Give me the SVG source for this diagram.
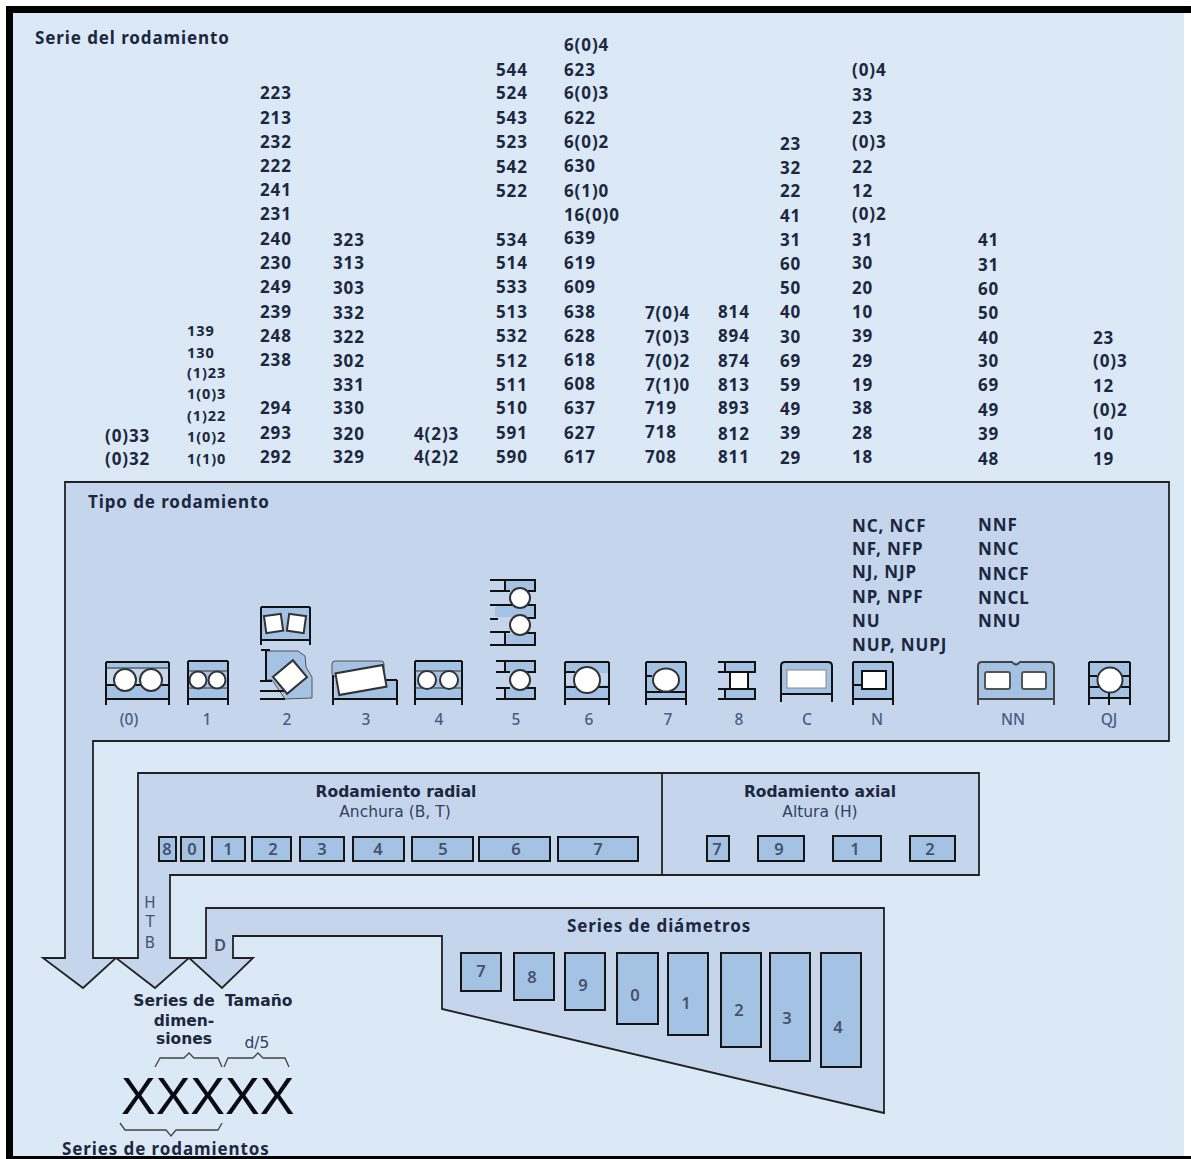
<svg xmlns="http://www.w3.org/2000/svg" width="1191" height="1159" viewBox="0 0 1191 1159">
<style>
text{font-family:"Noto Sans","DejaVu Sans",sans-serif;fill:#1c2740}
.n{font-size:17px;font-weight:700;letter-spacing:.9px}
.s{font-size:14.5px;font-weight:700;letter-spacing:.9px}
.t{font-size:17px;font-weight:700;letter-spacing:.9px}
.c{text-anchor:middle}
.d{font-family:"DejaVu Sans",sans-serif;font-size:15.5px;font-weight:700}
.r{font-family:"DejaVu Sans",sans-serif;font-size:15.5px;font-weight:400;fill:#34405c}
.l{font-size:15.5px;font-weight:500;fill:#4a5c85;text-anchor:middle}
.b{font-size:16.5px;font-weight:600;fill:#46526c;text-anchor:middle}
.h{font-family:"DejaVu Sans",sans-serif;font-size:15px;fill:#46526c;text-anchor:middle}
.band{fill:#c5d6ec;stroke:#222;stroke-width:1.8}
.box{fill:#a4c2e3;stroke:#151515;stroke-width:2}
.bl{fill:#a4c2e3;stroke:none}
.o{fill:none;stroke:#111;stroke-width:2}
.w{fill:#fff;stroke:#333;stroke-width:2}
.brace{fill:none;stroke:#444;stroke-width:1.3}
</style>
<rect width="1191" height="1159" fill="#fff"/>
<rect x="12" y="12" width="1172" height="1147" fill="#dbe9f6"/>

<g id="bearing-series">
<text class="t" x="35" y="44">Serie del rodamiento</text>
<text class="n" x="105" y="442">(0)33</text><text class="n" x="105" y="465">(0)32</text>
<text class="s" x="187" y="336">139</text><text class="s" x="187" y="358">130</text><text class="s" x="187" y="378">(1)23</text><text class="s" x="187" y="399">1(0)3</text><text class="s" x="187" y="421">(1)22</text><text class="s" x="187" y="442">1(0)2</text><text class="s" x="187" y="464">1(1)0</text>
<text class="n" x="260" y="99">223</text><text class="n" x="260" y="124">213</text><text class="n" x="260" y="148">232</text><text class="n" x="260" y="172">222</text><text class="n" x="260" y="196">241</text><text class="n" x="260" y="220">231</text><text class="n" x="260" y="245">240</text><text class="n" x="260" y="269">230</text><text class="n" x="260" y="293">249</text><text class="n" x="260" y="318">239</text><text class="n" x="260" y="342">248</text><text class="n" x="260" y="366">238</text><text class="n" x="260" y="414">294</text><text class="n" x="260" y="439">293</text><text class="n" x="260" y="463">292</text>
<text class="n" x="333" y="246">323</text><text class="n" x="333" y="269">313</text><text class="n" x="333" y="294">303</text><text class="n" x="333" y="319">332</text><text class="n" x="333" y="343">322</text><text class="n" x="333" y="367">302</text><text class="n" x="333" y="391">331</text><text class="n" x="333" y="414">330</text><text class="n" x="333" y="440">320</text><text class="n" x="333" y="463">329</text>
<text class="n" x="414" y="440">4(2)3</text><text class="n" x="414" y="463">4(2)2</text>
<text class="n" x="496" y="76">544</text><text class="n" x="496" y="99">524</text><text class="n" x="496" y="124">543</text><text class="n" x="496" y="148">523</text><text class="n" x="496" y="173">542</text><text class="n" x="496" y="197">522</text><text class="n" x="496" y="246">534</text><text class="n" x="496" y="269">514</text><text class="n" x="496" y="293">533</text><text class="n" x="496" y="318">513</text><text class="n" x="496" y="342">532</text><text class="n" x="496" y="367">512</text><text class="n" x="496" y="391">511</text><text class="n" x="496" y="414">510</text><text class="n" x="496" y="439">591</text><text class="n" x="496" y="463">590</text>
<text class="n" x="564" y="51">6(0)4</text><text class="n" x="564" y="76">623</text><text class="n" x="564" y="99">6(0)3</text><text class="n" x="564" y="124">622</text><text class="n" x="564" y="148">6(0)2</text><text class="n" x="564" y="172">630</text><text class="n" x="564" y="197">6(1)0</text><text class="n" x="564" y="221">16(0)0</text><text class="n" x="564" y="244">639</text><text class="n" x="564" y="269">619</text><text class="n" x="564" y="293">609</text><text class="n" x="564" y="318">638</text><text class="n" x="564" y="342">628</text><text class="n" x="564" y="366">618</text><text class="n" x="564" y="390">608</text><text class="n" x="564" y="414">637</text><text class="n" x="564" y="439">627</text><text class="n" x="564" y="463">617</text>
<text class="n" x="645" y="319">7(0)4</text><text class="n" x="645" y="343">7(0)3</text><text class="n" x="645" y="367">7(0)2</text><text class="n" x="645" y="391">7(1)0</text><text class="n" x="645" y="414">719</text><text class="n" x="645" y="438">718</text><text class="n" x="645" y="463">708</text>
<text class="n" x="718" y="318">814</text><text class="n" x="718" y="342">894</text><text class="n" x="718" y="367">874</text><text class="n" x="718" y="391">813</text><text class="n" x="718" y="414">893</text><text class="n" x="718" y="440">812</text><text class="n" x="718" y="463">811</text>
<text class="n" x="780" y="150">23</text><text class="n" x="780" y="174">32</text><text class="n" x="780" y="197">22</text><text class="n" x="780" y="222">41</text><text class="n" x="780" y="246">31</text><text class="n" x="780" y="270">60</text><text class="n" x="780" y="294">50</text><text class="n" x="780" y="318">40</text><text class="n" x="780" y="343">30</text><text class="n" x="780" y="367">69</text><text class="n" x="780" y="391">59</text><text class="n" x="780" y="415">49</text><text class="n" x="780" y="439">39</text><text class="n" x="780" y="464">29</text>
<text class="n" x="852" y="76">(0)4</text><text class="n" x="852" y="101">33</text><text class="n" x="852" y="124">23</text><text class="n" x="852" y="148">(0)3</text><text class="n" x="852" y="173">22</text><text class="n" x="852" y="197">12</text><text class="n" x="852" y="220">(0)2</text><text class="n" x="852" y="246">31</text><text class="n" x="852" y="269">30</text><text class="n" x="852" y="294">20</text><text class="n" x="852" y="318">10</text><text class="n" x="852" y="342">39</text><text class="n" x="852" y="367">29</text><text class="n" x="852" y="391">19</text><text class="n" x="852" y="414">38</text><text class="n" x="852" y="439">28</text><text class="n" x="852" y="463">18</text>
<text class="n" x="978" y="246">41</text><text class="n" x="978" y="271">31</text><text class="n" x="978" y="295">60</text><text class="n" x="978" y="319">50</text><text class="n" x="978" y="344">40</text><text class="n" x="978" y="367">30</text><text class="n" x="978" y="391">69</text><text class="n" x="978" y="416">49</text><text class="n" x="978" y="440">39</text><text class="n" x="978" y="465">48</text>
<text class="n" x="1093" y="344">23</text><text class="n" x="1093" y="367">(0)3</text><text class="n" x="1093" y="392">12</text><text class="n" x="1093" y="416">(0)2</text><text class="n" x="1093" y="440">10</text><text class="n" x="1093" y="465">19</text>
</g>

<g id="band-diameter">
<path class="band" d="M206 958V908H884V1113L442 1009V936H233V958H253L222 988L189 958Z"/>
<text class="t c" x="659" y="932">Series de diámetros</text>
<rect class="box" x="461" y="953" width="40" height="38"/><rect class="box" x="514" y="953" width="40" height="47"/><rect class="box" x="565" y="953" width="40" height="57"/><rect class="box" x="617" y="953" width="41" height="71"/><rect class="box" x="668" y="953" width="40" height="82"/><rect class="box" x="721" y="953" width="40" height="94"/><rect class="box" x="770" y="953" width="40" height="108"/><rect class="box" x="821" y="953" width="40" height="114"/>
<text class="b" x="481" y="977">7</text><text class="b" x="532" y="983">8</text><text class="b" x="583" y="991">9</text><text class="b" x="635" y="1001">0</text><text class="b" x="686" y="1009">1</text><text class="b" x="739" y="1016">2</text><text class="b" x="787" y="1024">3</text><text class="b" x="838" y="1033">4</text>
<text class="b" x="220" y="951">D</text>
</g>

<g id="band-dimension">
<path class="band" d="M138 958V773H979V875H170V958H189L155 988L116 958Z"/>
<line x1="662" y1="773" x2="662" y2="875" stroke="#222" stroke-width="1.8"/>
<text class="d c" x="396" y="797">Rodamiento radial</text>
<text class="r c" x="395" y="817">Anchura (B, T)</text>
<text class="d c" x="820" y="797">Rodamiento axial</text>
<text class="r c" x="820" y="817">Altura (H)</text>
<rect class="box" x="159" y="837" width="17" height="24"/><rect class="box" x="181" y="837" width="23" height="24"/><rect class="box" x="212" y="837" width="33" height="24"/><rect class="box" x="252" y="837" width="39" height="24"/><rect class="box" x="300" y="837" width="44" height="24"/><rect class="box" x="353" y="837" width="51" height="24"/><rect class="box" x="412" y="837" width="61" height="24"/><rect class="box" x="479" y="837" width="71" height="24"/><rect class="box" x="558" y="837" width="80" height="24"/>
<rect class="box" x="707" y="836" width="22" height="25"/><rect class="box" x="758" y="836" width="46" height="25"/><rect class="box" x="833" y="836" width="48" height="25"/><rect class="box" x="910" y="836" width="45" height="25"/>
<text class="b" x="167" y="855">8</text><text class="b" x="192" y="855">0</text><text class="b" x="228" y="855">1</text><text class="b" x="273" y="855">2</text><text class="b" x="322" y="855">3</text><text class="b" x="378" y="855">4</text><text class="b" x="443" y="855">5</text><text class="b" x="516" y="855">6</text><text class="b" x="598" y="855">7</text>
<text class="b" x="717" y="855">7</text><text class="b" x="779" y="855">9</text><text class="b" x="855" y="855">1</text><text class="b" x="930" y="855">2</text>
<text class="h" x="150" y="908">H</text><text class="h" x="150" y="927">T</text><text class="h" x="150" y="948">B</text>
</g>

<g id="band-type">
<path class="band" d="M65 958V482H1169V741H93V958H116L83 988L43 958Z"/>
<text class="t" x="88" y="508">Tipo de rodamiento</text>
<text class="t" x="852" y="532">NC, NCF</text><text class="t" x="852" y="555">NF, NFP</text><text class="t" x="852" y="578">NJ, NJP</text><text class="t" x="852" y="603">NP, NPF</text><text class="t" x="852" y="627">NU</text><text class="t" x="852" y="651">NUP, NUPJ</text>
<text class="t" x="978" y="531">NNF</text><text class="t" x="978" y="555">NNC</text><text class="t" x="978" y="580">NNCF</text><text class="t" x="978" y="604">NNCL</text><text class="t" x="978" y="627">NNU</text>
</g>

<g id="icon-0"><rect class="bl" x="106" y="662" width="63" height="37"/><rect x="107" y="669" width="61" height="15" fill="#c5d6ec"/><path class="o" d="M106 662H169M106 662V705M169 662V705M106 699H169M106 685H169"/><path d="M106 668H169" stroke="#333" stroke-width="1.2"/><circle class="w" cx="125" cy="680" r="11"/><circle class="w" cx="151" cy="680" r="11"/><text class="l" x="129" y="725">(0)</text></g>
<g id="icon-1"><rect class="bl" x="188" y="661" width="40" height="38"/><path class="o" d="M188 661H228M188 661V705M228 661V705M188 699H228"/><path d="M188 671H228M188 688H228" stroke="#333" stroke-width="1.2"/><circle class="w" cx="198" cy="680" r="8.5"/><circle class="w" cx="217" cy="680" r="8.5"/><text class="l" x="207" y="725">1</text></g>
<g id="icon-2"><rect class="bl" x="261" y="607" width="49" height="33"/><path class="o" d="M261 607H310M261 607V645M310 607V645M261 640H310"/><rect class="w" x="265" y="615" width="17" height="17" transform="rotate(-8 273 623)"/><rect class="w" x="288" y="615" width="17" height="17" transform="rotate(8 297 623)"/>
<path class="bl" d="M266 651H298L305 656L306 667L312 677V698L285 699L272 680H266Z" style="stroke:#555;stroke-width:1"/><path class="o" d="M261 650H270M266 650V681M260 681H272M260 691H285M260 699H285"/><rect class="w" x="277" y="666" width="26" height="22" transform="rotate(-40 290 677)"/><text class="l" x="287" y="725">2</text></g>
<g id="icon-3"><rect class="bl" x="332" y="661" width="52" height="16" rx="3" style="stroke:#555;stroke-width:1"/><rect class="bl" x="335" y="680" width="62" height="19"/><path class="o" d="M333 675V705M397 680V705M384 680H397M333 699H397"/><rect class="w" x="337" y="669" width="48" height="22" transform="rotate(-10 361 680)"/><text class="l" x="366" y="725">3</text></g>
<g id="icon-4"><rect class="bl" x="415" y="661" width="47" height="38"/><path class="o" d="M415 661H462M415 661V705M462 661V705M415 699H462"/><path d="M415 671H462M415 688H462" stroke="#333" stroke-width="1.2"/><circle class="w" cx="427" cy="680" r="9"/><circle class="w" cx="449" cy="680" r="9"/><text class="l" x="439" y="725">4</text></g>
<g id="icon-5a"><rect class="bl" x="505" y="580" width="30" height="11" rx="3"/><rect class="bl" x="495" y="606" width="40" height="11" rx="3"/><rect class="bl" x="505" y="634" width="30" height="11" rx="3"/><path class="o" d="M490 580H535V591H525M490 591H510M490 605H535V618H525M490 619H498M490 632H510M505 580V591M505 632V645M490 645H535V633H525"/><circle class="w" cx="520" cy="598" r="10"/><circle class="w" cx="520" cy="625" r="10"/></g>
<g id="icon-5b"><rect class="bl" x="505" y="661" width="30" height="11" rx="3"/><rect class="bl" x="505" y="688" width="30" height="11" rx="3"/><path class="o" d="M496 661H535V672H525M496 672H510M496 688H510M496 699H535V688H525M505 661V672M505 688V699"/><circle class="w" cx="520" cy="680" r="10"/><text class="l" x="516" y="725">5</text></g>
<g id="icon-6"><rect class="bl" x="565" y="662" width="44" height="37"/><rect x="566" y="673" width="42" height="12" fill="#c5d6ec"/><path class="o" d="M565 662H609M565 662V705M609 662V705M565 699H609M565 687H609M565 672H575"/><circle class="w" cx="587" cy="680" r="13"/><text class="l" x="589" y="725">6</text></g>
<g id="icon-7"><rect class="bl" x="646" y="662" width="40" height="37"/><path class="o" d="M646 662H686M646 662V705M686 662V705M646 699H686M646 692H686M646 676H652"/><ellipse class="w" cx="666" cy="680" rx="13" ry="11.5"/><text class="l" x="668" y="725">7</text></g>
<g id="icon-8"><rect class="bl" x="725" y="662" width="30" height="10" rx="2"/><rect class="bl" x="725" y="689" width="30" height="10" rx="2"/><path class="o" d="M718 662H755V672H730M718 672H730M718 689H755V699H718M725 662V672M725 689V699"/><rect x="730" y="672" width="18" height="17" fill="#fff" stroke="#111" stroke-width="2"/><text class="l" x="739" y="725">8</text></g>
<g id="icon-c"><rect class="bl" x="781" y="662" width="51" height="32"/><path class="o" d="M781 702V666Q781 662 785 662H828Q832 662 832 666V702M781 694H832"/><rect x="787" y="670" width="39" height="18" fill="#fff" stroke="#888"/><text class="l" x="807" y="725">C</text></g>
<g id="icon-n"><rect class="bl" x="853" y="662" width="40" height="37"/><path class="o" d="M853 662H893M853 662V705M893 662V705M853 699H893M853 685H862"/><rect x="862" y="671" width="24" height="18" fill="#fff" stroke="#111" stroke-width="2"/><text class="l" x="877" y="725">N</text></g>
<g id="icon-nn"><rect class="bl" x="978" y="662" width="76" height="37" rx="4"/><path class="o" d="M978 666Q978 662 982 662H1012Q1016 667 1020 662H1050Q1054 662 1054 666V705M978 666V705M978 699H1054" style="stroke:#444"/><rect x="985" y="672" width="25" height="17" rx="2" fill="#fff" stroke="#555" stroke-width="2"/><rect x="1022" y="672" width="24" height="17" rx="2" fill="#fff" stroke="#555" stroke-width="2"/><text class="l" x="1013" y="725">NN</text></g>
<g id="icon-qj"><rect class="bl" x="1089" y="662" width="41" height="36"/><path class="o" d="M1089 662H1130M1089 662V705M1130 662V705M1089 698H1130M1089 676H1097M1122 676H1130M1089 687H1130M1109 690V705"/><circle class="w" cx="1110" cy="680" r="12.5"/><text class="l" x="1109" y="725">QJ</text></g>

<g id="connectors">
<path class="brace" d="M155 1067L160 1058H184L189 1053L194 1058H218L222 1067"/>
<path class="brace" d="M224 1067L228 1058H253L258 1053L263 1058H285L289 1067"/>
<path class="brace" d="M120 1123L125 1130H166L171 1136L176 1130H218L222 1123"/>
</g>

<g id="code">
<text class="d c" x="174" y="1006">Series de</text>
<text class="d" x="225" y="1006">Tamaño</text>
<text class="d c" x="184" y="1026">dimen-</text>
<text class="d c" x="184" y="1044">siones</text>
<text class="r c" x="257" y="1048">d/5</text>
<text x="121" y="1114" style="font-family:'Liberation Sans',sans-serif;font-size:52px;fill:#0a0a14">XXXXX</text>
<text class="t" x="62" y="1155">Series de rodamientos</text>
</g>

<g id="frame" fill="#000">
<rect x="6" y="6" width="1185" height="7"/>
<rect x="6" y="6" width="7" height="1153"/>
<rect x="6" y="1156" width="1185" height="3"/>
</g>
</svg>
